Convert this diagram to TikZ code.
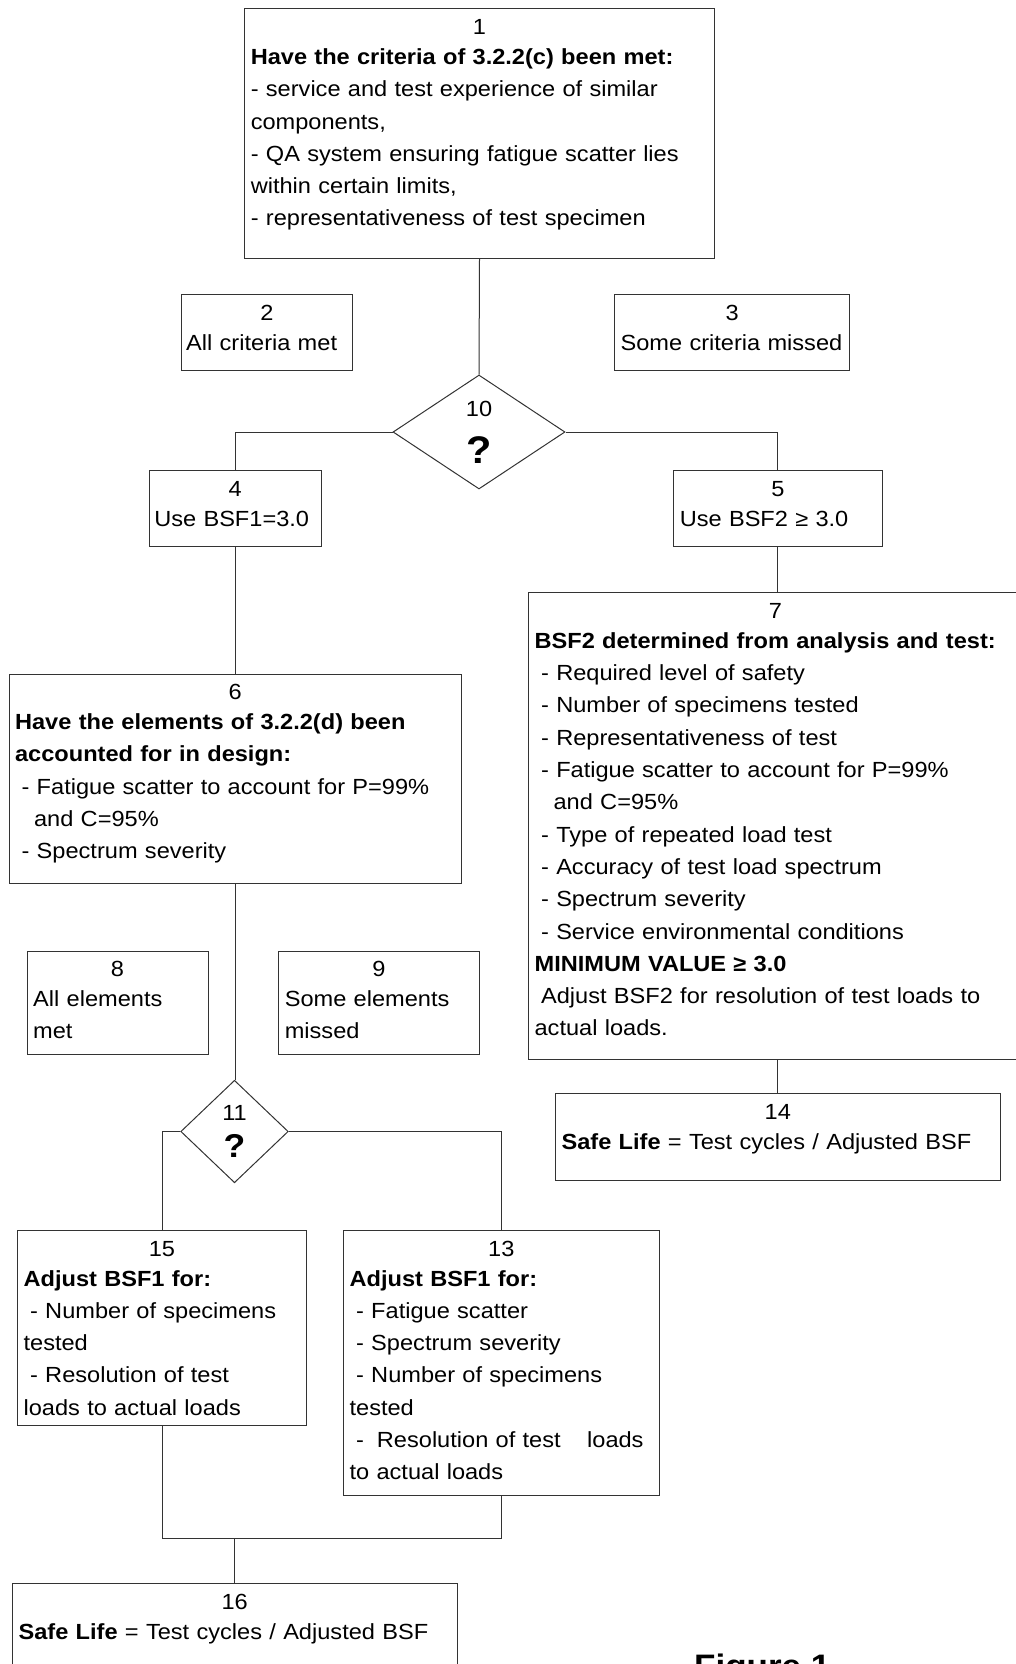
\documentclass[tikz,border=0pt]{standalone}
\usepackage{fontspec}
\setmainfont{Liberation Sans}[FakeStretch=1.077]
\usetikzlibrary{shapes.geometric,calc}
\newcommand\myind{\hspace*{6.5pt}}
\begin{document}
\begin{tikzpicture}[x=1pt,y=-1pt,
  box/.style={draw=black!80, line width=1pt, rectangle, inner sep=0pt, anchor=north west},
  dia/.style={draw=black!80, line width=1pt, diamond, inner sep=0pt},
  num/.style={font=\fontsize{21.9}{32.3}\selectfont, inner sep=0pt, anchor=base},
  body/.style={font=\fontsize{21.9}{32.3}\selectfont, inner sep=0pt, anchor=base west, text width=600pt, align=left},
  link/.style={draw=black!80, line width=1pt},
  qbig/.style={font=\bfseries\fontsize{38.5}{40}\selectfont, inner sep=0pt, anchor=base},
  qsmall/.style={font=\bfseries\fontsize{33}{35}\selectfont, inner sep=0pt, anchor=base}
]
\useasboundingbox (0,0) rectangle (1015,1664);

% ---- boxes
\node[box, minimum width=469.6pt, minimum height=249.5pt] (b1) at (244.2,8.5) {};
\node[box, minimum width=171pt, minimum height=75.5pt] (b2) at (181,294) {};
\node[box, minimum width=235.4pt, minimum height=75.5pt] (b3) at (614,294) {};
\node[dia, minimum width=172pt, minimum height=114pt] (d10) at (479,432) {};
\node[box, minimum width=172pt, minimum height=75.4pt] (b4) at (148.6,470.3) {};
\node[box, minimum width=208.4pt, minimum height=75.4pt] (b5) at (673.2,470.3) {};
\node[box, minimum width=494pt, minimum height=466.7pt] (b7) at (528,592.3) {};
\node[box, minimum width=444.5pt, minimum height=87pt] (b14) at (555,1093) {};
\node[box, minimum width=452.5pt, minimum height=209.5pt] (b6) at (8.5,673.5) {};
\node[box, minimum width=180.9pt, minimum height=103pt] (b8) at (26.6,950.5) {};
\node[box, minimum width=200.6pt, minimum height=103pt] (b9) at (278.2,950.5) {};
\node[dia, minimum width=107.5pt, minimum height=102.5pt] (d11) at (234.5,1131.5) {};
\node[box, minimum width=289pt, minimum height=194.5pt] (b15) at (17,1230) {};
\node[box, minimum width=315.5pt, minimum height=265pt] (b13) at (343,1230) {};
\node[box, minimum width=444.5pt, minimum height=140pt] (b16) at (12,1583) {};

% ---- numbers
\node[num] (n1) at ($(b1.north)+(0,26)$) {1};
\node[num] (n2) at ($(b2.north)+(0,26)$) {2};
\node[num] (n3) at ($(b3.north)+(0,26)$) {3};
\node[num] (n4) at ($(b4.north)+(0,26)$) {4};
\node[num] (n5) at ($(b5.north)+(0,26)$) {5};
\node[num] (n7) at ($(b7.north)+(0,26)$) {7};
\node[num] (n14) at ($(b14.north)+(0,26)$) {14};
\node[num] (n6) at ($(b6.north)+(0,26)$) {6};
\node[num] (n8) at ($(b8.north)+(0,26)$) {8};
\node[num] (n9) at ($(b9.north)+(0,26)$) {9};
\node[num] (n15) at ($(b15.north)+(0,26)$) {15};
\node[num] (n13) at ($(b13.north)+(0,26)$) {13};
\node[num] (n16) at ($(b16.north)+(0,26)$) {16};
\node[num] (n10) at (479,416) {10};
\node[qbig] (q10) at (479,463.3) {?};
\node[num] (n11) at (234.5,1120) {11};
\node[qsmall] (q11) at (234.5,1157.3) {?};

% ---- bodies
\node[body] (t1) at ($(b1.north west)+(6.4,56)$) {\textbf{Have the criteria of 3.2.2(c) been met:}\\- service and test experience of similar\\components,\\- QA system ensuring fatigue scatter lies\\within certain limits,\\- representativeness of test specimen};
\node[body] (t2) at ($(b2.north west)+(5,56)$) {All criteria met};
\node[body] (t3) at ($(b3.north west)+(6.4,56)$) {Some criteria missed};
\node[body] (t4) at ($(b4.north west)+(5.5,56)$) {Use BSF1=3.0};
\node[body] (t5) at ($(b5.north west)+(6.4,56)$) {Use BSF2 ≥ 3.0};
\node[body] (t7) at ($(b7.north west)+(6.4,56)$) {\textbf{BSF2 determined from analysis and test:}\\\myind- Required level of safety\\\myind- Number of specimens tested\\\myind- Representativeness of test\\\myind- Fatigue scatter to account for P=99\%\\\hspace*{19pt}and C=95\%\\\myind- Type of repeated load test\\\myind- Accuracy of test load spectrum\\\myind- Spectrum severity\\\myind- Service environmental conditions\\\textbf{MINIMUM VALUE ≥ 3.0}\\\myind Adjust BSF2 for resolution of test loads to\\actual loads.};
\node[body] (t14) at ($(b14.north west)+(6.4,56)$) {\textbf{Safe Life} = Test cycles / Adjusted BSF};
\node[body] (t6) at ($(b6.north west)+(6.4,56)$) {\textbf{Have the elements of 3.2.2(d) been}\\\textbf{accounted for in design:}\\\myind- Fatigue scatter to account for P=99\%\\\hspace*{19pt}and C=95\%\\\myind- Spectrum severity};
\node[body] (t8) at ($(b8.north west)+(6.4,56)$) {All elements\\met};
\node[body] (t9) at ($(b9.north west)+(6.4,56)$) {Some elements\\missed};
\node[body] (t15) at ($(b15.north west)+(6.4,56)$) {\textbf{Adjust BSF1 for:}\\\myind- Number of specimens\\tested\\\myind- Resolution of test\\loads to actual loads};
\node[body] (t13) at ($(b13.north west)+(6.4,56)$) {\textbf{Adjust BSF1 for:}\\\myind- Fatigue scatter\\\myind- Spectrum severity\\\myind- Number of specimens\\tested\\\myind-\hspace{13pt}Resolution of test\hspace{26.5pt}loads\\to actual loads};
\node[body] (t16) at ($(b16.north west)+(6.4,56)$) {\textbf{Safe Life} = Test cycles / Adjusted BSF};

\node[font=\bfseries\fontsize{32.5}{34}\selectfont, inner sep=0pt, anchor=base west] (fig) at (694,1677) {Figure 1};

% ---- connectors
\draw[link] (b1.south) -- (d10.north);
\draw[link] (d10.west) -| (b4.north);
\draw[link] (d10.east) -| (b5.north);
\draw[link] (b5.south) -- (b5.south |- b7.north);
\draw[link] (b14.north |- b7.south) -- (b14.north);
\draw[link] (b4.south) -- (b4.south |- b6.north);
\draw[link] (b6.south) -- (b6.south |- d11.north);
\draw[link] (d11.west) -| (b15.north);
\draw[link] (d11.east) -| (b13.north);
\coordinate (j) at (234.3,1538.5);
\draw[link] (b15.south) |- (j) -| (b13.south);
\draw[link] (j) -- (j |- b16.north);
\end{tikzpicture}
\end{document}
